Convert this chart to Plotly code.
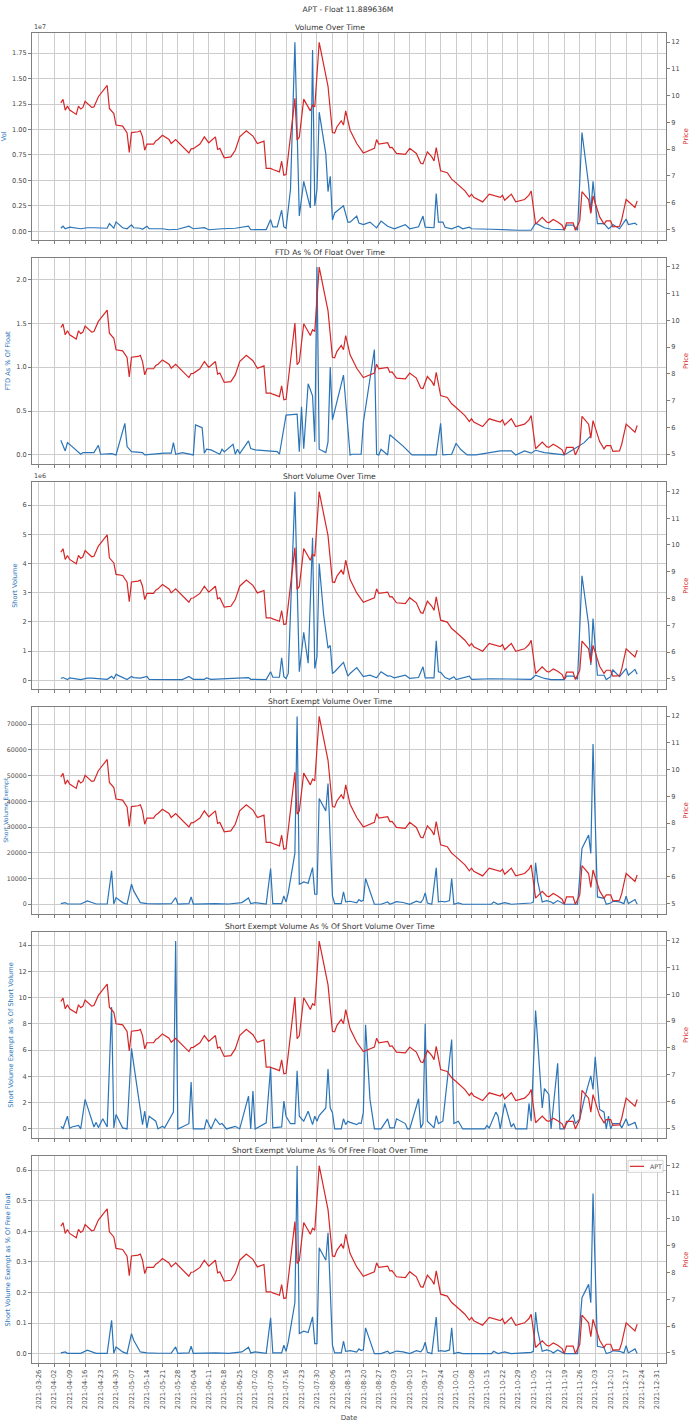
import pandas as pd
import plotly.graph_objects as go
from plotly.subplots import make_subplots

YEAR = "2021-"
TICKER = "APT"
FLOAT_SHARES = 11889636

# ---------------- price (right axis, every panel) ----------------
price_dates = [
    "04-05", "04-06", "04-07", "04-08", "04-09", "04-12", "04-13", "04-14", "04-15", "04-16",
    "04-19", "04-20", "04-22", "04-26", "04-27", "04-29", "04-30", "05-03", "05-05", "05-06",
    "05-07", "05-10", "05-11", "05-12", "05-13", "05-14", "05-17", "05-18", "05-19", "05-21",
    "05-24", "05-25", "05-27", "05-30", "06-02", "06-03", "06-04", "06-07", "06-09", "06-11",
    "06-14", "06-15", "06-16", "06-18", "06-21", "06-23", "06-25", "06-28", "07-01", "07-03",
    "07-06", "07-07", "07-09", "07-10", "07-13", "07-14", "07-15", "07-16", "07-20", "07-21",
    "07-22", "07-24", "07-27", "07-28", "07-29", "07-31", "08-02", "08-03", "08-04", "08-06",
    "08-07", "08-08", "08-10", "08-11", "08-12", "08-14", "08-15", "08-17", "08-20", "08-25",
    "08-26", "08-27", "08-31", "09-01", "09-02", "09-04", "09-08", "09-10", "09-13", "09-15",
    "09-16", "09-18", "09-20", "09-21", "09-22", "09-24", "09-27", "09-29", "10-01", "10-04",
    "10-05", "10-07", "10-08", "10-09", "10-11", "10-13", "10-16", "10-18", "10-21", "10-22",
    "10-23", "10-26", "10-28", "11-01", "11-03", "11-04", "11-06", "11-09", "11-11", "11-12",
    "11-14", "11-16", "11-18", "11-19", "11-20", "11-23", "11-24", "11-26", "11-27", "11-30",
    "12-01", "12-02", "12-05", "12-07", "12-08", "12-10", "12-11", "12-14", "12-15", "12-17",
    "12-21", "12-22",
]
price_values = [
    9.73, 9.86, 9.46, 9.61, 9.46, 9.30, 9.61, 9.50, 9.56, 9.79,
    9.56, 9.58, 9.96, 10.38, 9.52, 9.33, 8.90, 8.86, 8.61, 7.88,
    8.62, 8.65, 8.69, 8.46, 7.96, 8.19, 8.19, 8.31, 8.36, 8.52,
    8.36, 8.21, 8.36, 8.09, 7.86, 8.01, 8.02, 8.19, 8.46, 8.24,
    8.46, 7.99, 8.03, 7.68, 7.71, 7.96, 8.46, 8.69, 8.49, 8.21,
    8.30, 7.28, 7.28, 7.24, 7.15, 7.55, 7.03, 7.05, 9.90, 8.34,
    8.45, 9.87, 9.43, 9.65, 9.58, 11.99, 11.20, 10.83, 10.35, 8.62,
    8.60, 8.83, 9.06, 8.90, 9.43, 8.71, 8.55, 8.21, 7.86, 8.03,
    8.36, 8.19, 8.24, 8.06, 8.07, 7.84, 7.81, 8.03, 7.84, 7.47,
    7.45, 7.90, 7.71, 7.56, 8.06, 7.19, 7.12, 6.88, 6.74, 6.53,
    6.44, 6.22, 6.32, 6.20, 6.12, 6.03, 6.32, 6.28, 6.20, 6.28,
    6.09, 6.32, 6.03, 6.12, 6.28, 6.44, 5.20, 5.45, 5.28, 5.25,
    5.37, 5.28, 5.16, 4.97, 5.25, 5.25, 4.97, 5.32, 6.41, 6.12,
    5.60, 6.25, 5.47, 5.20, 5.32, 5.32, 5.10, 5.12, 5.37, 6.12,
    5.82, 6.07,
]

# ---------------- volume ----------------
vol_dates = [
    "04-05", "04-06", "04-07", "04-09", "04-14", "04-17", "04-20", "04-23", "04-24", "04-26",
    "04-27", "04-29", "04-30", "05-03", "05-05", "05-07", "05-08", "05-11", "05-12", "05-14",
    "05-15", "05-21", "05-24", "05-28", "06-02", "06-04", "06-09", "06-11", "06-17", "06-23",
    "06-29", "06-30", "07-07", "07-09", "07-10", "07-12", "07-14", "07-15", "07-16", "07-18",
    "07-20", "07-22", "07-24", "07-27", "07-28", "07-29", "07-30", "07-31", "08-03", "08-04",
    "08-05", "08-06", "08-07", "08-11", "08-13", "08-14", "08-17", "08-18", "08-20", "08-23",
    "08-26", "08-28", "08-31", "09-03", "09-08", "09-10", "09-14", "09-16", "09-17", "09-21",
    "09-22", "09-23", "09-25", "09-26", "09-29", "09-30", "10-02", "10-04", "10-07", "10-08",
    "10-11", "10-17", "10-29", "11-04", "11-06", "11-10", "11-13", "11-19", "11-20", "11-23",
    "11-25", "11-27", "11-30", "12-01", "12-02", "12-04", "12-07", "12-09", "12-10", "12-11",
    "12-14", "12-17", "12-18", "12-21", "12-22",
]
vol_values = [
    300000, 500000, 250000, 400000, 250000, 350000, 350000, 330000, 280000, 300000,
    760000, 300000, 920000, 350000, 250000, 630000, 350000, 300000, 200000, 500000,
    250000, 250000, 150000, 200000, 500000, 250000, 350000, 150000, 250000, 300000,
    500000, 150000, 170000, 1150000, 430000, 430000, 2070000, 430000, 300000, 4100000,
    18550000, 1500000, 4900000, 2300000, 17800000, 2500000, 4100000, 11700000, 7600000, 3900000,
    5400000, 1100000, 1800000, 2500000, 900000, 900000, 1500000, 800000, 660000, 900000,
    330000, 1000000, 500000, 250000, 660000, 250000, 450000, 1500000, 400000, 350000,
    3700000, 900000, 900000, 400000, 250000, 350000, 500000, 250000, 400000, 250000,
    250000, 200000, 100000, 100000, 800000, 350000, 200000, 150000, 600000, 600000,
    100000, 9700000, 4600000, 1900000, 4900000, 760000, 760000, 250000, 400000, 660000,
    250000, 1200000, 660000, 800000, 600000,
]

# ---------------- FTD as % of float ----------------
ftd_dates = [
    "04-05", "04-07", "04-08", "04-09", "04-14", "04-15", "04-20", "04-22", "04-23", "04-28",
    "04-30", "05-04", "05-05", "05-07", "05-12", "05-13", "05-22", "05-25", "05-26", "05-27",
    "05-30", "06-04", "06-05", "06-08", "06-09", "06-10", "06-12", "06-16", "06-17", "06-18",
    "06-22", "06-23", "06-24", "06-25", "06-29", "06-30", "07-02", "07-12", "07-13", "07-16",
    "07-21", "07-22", "07-23", "07-24", "07-26", "07-28", "07-29", "07-30", "07-31", "08-03",
    "08-04", "08-05", "08-06", "08-11", "08-14", "08-15", "08-19", "08-20", "08-25", "08-26",
    "08-27", "08-28", "08-31", "09-01", "09-07", "09-11", "09-22", "09-24", "09-25", "09-29",
    "10-01", "10-03", "10-06", "10-10", "10-21", "10-23", "10-26", "10-28", "11-01", "11-04",
    "11-06", "11-10", "11-19", "11-22", "11-28", "12-01",
]
ftd_values = [
    0.168, 0.046, 0.14, 0.12, 0.008, 0.027, 0.027, 0.11, 0.008, 0.015,
    0.0, 0.36, 0.095, 0.038, 0.027, 0.0, 0.02, 0.02, 0.14, 0.008,
    0.027, 0.0, 0.343, 0.31, 0.02, 0.065, 0.057, 0.008, 0.065, 0.034,
    0.12, 0.008, 0.065, 0.015, 0.16, 0.072, 0.057, 0.038, 0.008, 0.453,
    0.465, 0.038, 0.55, 0.072, 0.81, 0.674, 0.149, 2.14, 0.065, 0.027,
    0.149, 1.0, 0.4, 0.91, 0.0, 0.008, 0.008, 0.37, 1.2, 0.008,
    0.0, 0.065, 0.0, 0.23, 0.1, 0.0, 0.0, 0.36, 0.0, 0.008,
    0.133, 0.065, 0.0, 0.0, 0.046, 0.046, 0.046, 0.0, 0.046, 0.02,
    0.053, 0.027, 0.0, 0.046, 0.14, 0.217,
]

# ---------------- short volume ----------------
sv_dates = [
    "04-05", "04-06", "04-08", "04-09", "04-14", "04-17", "04-19", "04-24", "04-26", "04-28",
    "04-29", "04-30", "05-03", "05-05", "05-07", "05-08", "05-11", "05-14", "05-15", "05-21",
    "05-24", "05-30", "06-02", "06-04", "06-09", "06-10", "06-12", "06-20", "06-29", "06-30",
    "07-07", "07-09", "07-10", "07-13", "07-14", "07-15", "07-16", "07-17", "07-20", "07-22",
    "07-24", "07-26", "07-28", "07-29", "07-30", "07-31", "08-02", "08-04", "08-05", "08-06",
    "08-07", "08-11", "08-13", "08-14", "08-17", "08-20", "08-23", "08-26", "08-28", "08-31",
    "09-01", "09-03", "09-08", "09-10", "09-14", "09-16", "09-17", "09-21", "09-22", "09-23",
    "09-24", "09-26", "09-28", "09-30", "10-01", "10-07", "10-08", "10-17", "10-29", "11-04",
    "11-06", "11-10", "11-13", "11-19", "11-20", "11-23", "11-25", "11-27", "11-30", "12-01",
    "12-02", "12-04", "12-07", "12-08", "12-10", "12-11", "12-14", "12-17", "12-18", "12-21",
    "12-22",
]
sv_values = [
    60000, 90000, 20000, 80000, 20000, 70000, 70000, 30000, 30000, 130000,
    50000, 200000, 90000, 20000, 130000, 90000, 70000, 130000, 30000, 30000,
    20000, 20000, 130000, 30000, 30000, 80000, 30000, 60000, 90000, 30000,
    20000, 290000, 100000, 100000, 770000, 120000, 60000, 230000, 6460000, 290000,
    1640000, 580000, 4880000, 400000, 810000, 4000000, 2250000, 1100000, 1190000, 230000,
    290000, 610000, 140000, 230000, 430000, 120000, 170000, 80000, 290000, 140000,
    150000, 80000, 170000, 60000, 90000, 460000, 80000, 80000, 1350000, 290000,
    270000, 90000, 30000, 120000, 20000, 140000, 30000, 50000, 30000, 30000,
    170000, 60000, 20000, 20000, 140000, 140000, 30000, 3580000, 1900000, 520000,
    2110000, 170000, 170000, 20000, 120000, 350000, 120000, 400000, 170000, 370000,
    200000,
]

# ---------------- short exempt volume ----------------
se_dates = [
    "04-05", "04-07", "04-08", "04-14", "04-17", "04-19", "04-21", "04-26", "04-28", "04-29",
    "04-30", "05-03", "05-05", "05-07", "05-08", "05-11", "05-14", "05-19", "05-25", "05-27",
    "05-28", "06-02", "06-03", "06-04", "06-09", "06-14", "06-20", "06-26", "06-29", "06-30",
    "07-02", "07-07", "07-09", "07-10", "07-14", "07-15", "07-16", "07-17", "07-20", "07-21",
    "07-22", "07-24", "07-26", "07-28", "07-29", "07-30", "07-31", "08-03", "08-04", "08-06",
    "08-07", "08-10", "08-11", "08-12", "08-14", "08-17", "08-18", "08-19", "08-20", "08-21",
    "08-25", "08-28", "08-31", "09-01", "09-04", "09-07", "09-10", "09-13", "09-15", "09-16",
    "09-17", "09-18", "09-20", "09-22", "09-23", "09-24", "09-26", "09-28", "09-29", "09-30",
    "10-02", "10-04", "10-17", "10-18", "10-20", "10-23", "10-26", "11-04", "11-05", "11-06",
    "11-07", "11-09", "11-11", "11-13", "11-14", "11-16", "11-19", "11-25", "11-27", "11-30",
    "12-01", "12-02", "12-04", "12-07", "12-08", "12-10", "12-11", "12-14", "12-16", "12-17",
    "12-18", "12-21", "12-22",
]
se_values = [
    260, 650, 100, 100, 1300, 650, 100, 100, 12970, 100,
    2590, 650, 0, 7780, 5190, 650, 260, 130, 200, 2590,
    100, 260, 2850, 100, 260, 260, 100, 650, 2460, 260,
    650, 100, 13880, 260, 260, 3240, 910, 4540, 19840, 73000,
    7780, 8690, 8170, 14270, 3890, 3890, 41100, 36300, 46950, 3240,
    260, 260, 4800, 910, 1170, 600, 1820, 1170, 1500, 10000,
    0, 0, 900, 0, 1000, 700, 0, 1170, 700, 1820,
    4420, 500, 0, 14160, 900, 1170, 900, 1430, 10000, 0,
    500, 0, 0, 900, 0, 650, 0, 500, 900, 16100,
    8700, 900, 1430, 900, 260, 1430, 0, 0, 21700, 26900,
    19750, 62240, 2860, 2300, 0, 500, 1170, 900, 260, 3120,
    260, 1820, 0,
]

# ---------------- short exempt as % of short volume ----------------
sep_dates = [
    "04-05", "04-06", "04-08", "04-09", "04-10", "04-13", "04-14", "04-15", "04-16", "04-18",
    "04-20", "04-21", "04-22", "04-24", "04-25", "04-26", "04-28", "04-29", "04-30", "05-03",
    "05-05", "05-07", "05-08", "05-11", "05-12", "05-13", "05-14", "05-15", "05-18", "05-19",
    "05-21", "05-22", "05-26", "05-27", "05-28", "06-02", "06-03", "06-04", "06-09", "06-10",
    "06-12", "06-14", "06-16", "06-17", "06-19", "06-23", "06-25", "06-29", "06-30", "07-01",
    "07-02", "07-07", "07-09", "07-10", "07-14", "07-15", "07-16", "07-18", "07-20", "07-21",
    "07-22", "07-24", "07-26", "07-28", "07-29", "07-30", "07-31", "08-03", "08-04", "08-05",
    "08-06", "08-07", "08-10", "08-11", "08-12", "08-13", "08-14", "08-17", "08-18", "08-19",
    "08-20", "08-21", "08-23", "08-25", "08-28", "08-31", "09-01", "09-03", "09-04", "09-08",
    "09-09", "09-10", "09-14", "09-15", "09-16", "09-17", "09-18", "09-21", "09-22", "09-23",
    "09-25", "09-29", "09-30", "10-02", "10-04", "10-14", "10-15", "10-16", "10-19", "10-20",
    "10-21", "10-23", "10-26", "10-27", "10-28", "11-02", "11-03", "11-04", "11-06", "11-09",
    "11-10", "11-12", "11-13", "11-16", "11-17", "11-19", "11-20", "11-23", "11-24", "11-26",
    "11-28", "12-01", "12-02", "12-03", "12-05", "12-07", "12-08", "12-09", "12-10", "12-11",
    "12-14", "12-15", "12-17", "12-18", "12-21", "12-22",
]
sep_values = [
    0.2, 0.03, 0.97, 0.05, 0.15, 0.26, 0.0, 1.2, 2.25, 1.2,
    0.15, 0.5, 0.1, 0.77, 0.4, 0.15, 9.27, 0.08, 1.1, 0.08,
    0.0, 6.13, 4.93, 1.74, 0.33, 1.35, 0.08, 0.97, 0.59, 0.0,
    0.2, 0.08, 1.28, 14.3, 0.0, 0.4, 3.58, 0.0, 0.0, 0.72,
    0.0, 0.77, 0.33, 0.41, 0.0, 0.2, 0.0, 2.5, 0.0, 2.89,
    0.0, 0.46, 4.68, 0.08, 0.15, 2.12, 0.97, 0.4, 0.4, 4.42,
    0.97, 0.59, 1.35, 0.33, 0.97, 0.59, 1.02, 1.6, 4.55, 1.6,
    1.23, 0.0, 0.0, 0.77, 0.33, 0.59, 0.5, 0.33, 0.46, 0.41,
    1.28, 7.92, 2.25, 0.0, 0.0, 0.77, 0.08, 0.08, 0.77, 0.41,
    0.0, 0.0, 2.3, 0.08, 0.41, 8.0, 0.59, 0.08, 1.02, 0.41,
    0.59, 6.8, 0.41, 0.59, 0.0, 0.0, 0.26, 0.08, 1.28, 0.97,
    0.0, 1.94, 0.15, 0.41, 0.0, 0.0, 1.94, 0.59, 9.02, 1.6,
    3.07, 2.63, 0.0, 5.0, 0.0, 0.0, 0.41, 1.1, 0.41, 0.77,
    2.25, 4.04, 3.0, 5.5, 1.48, 1.28, 0.0, 0.97, 0.0, 0.41,
    0.41, 0.08, 0.77, 0.26, 0.5, 0.0,
]

titles = [
    "Volume Over Time",
    "FTD As % Of Float Over Time",
    "Short Volume Over Time",
    "Short Exempt Volume Over Time",
    "Short Exempt Volume As % Of Short Volume Over Time",
    "Short Exempt Volume As % Of Free Float Over Time",
]
left_labels = [
    "Vol",
    "FTD As % Of Float",
    "Short Volume",
    "Short Volume Exempt",
    "Short Volume Exempt as % Of Short Volume",
    "Short Volume Exempt as % Of Free Float",
]
left_tickvals = [
    [0, 2.5e6, 5e6, 7.5e6, 1e7, 1.25e7, 1.5e7, 1.75e7],
    [0, 0.5, 1.0, 1.5, 2.0],
    [0, 1e6, 2e6, 3e6, 4e6, 5e6, 6e6],
    [0, 10000, 20000, 30000, 40000, 50000, 60000, 70000],
    [0, 2, 4, 6, 8, 10, 12, 14],
    [0, 0.1, 0.2, 0.3, 0.4, 0.5, 0.6],
]
left_ticktext = [
    ["0.00", "0.25", "0.50", "0.75", "1.00", "1.25", "1.50", "1.75"],
    ["0.0", "0.5", "1.0", "1.5", "2.0"],
    ["0", "1", "2", "3", "4", "5", "6"],
    ["0", "10000", "20000", "30000", "40000", "50000", "60000", "70000"],
    ["0", "2", "4", "6", "8", "10", "12", "14"],
    ["0.0", "0.1", "0.2", "0.3", "0.4", "0.5", "0.6"],
]
offset_texts = ["1e7", "", "1e6", "", "", ""]
price_ticks = [5, 6, 7, 8, 9, 10, 11, 12]

# derived: short exempt volume as % of free float
sef_values = [v / FLOAT_SHARES * 100 for v in se_values]

series = [
    (vol_dates, vol_values),
    (ftd_dates, ftd_values),
    (sv_dates, sv_values),
    (se_dates, se_values),
    (sep_dates, sep_values),
    (se_dates, sef_values),
]


def full(dates):
    return [YEAR + d for d in dates]


def padded(vals, frac=0.05):
    lo, hi = min(vals), max(vals)
    p = (hi - lo) * frac
    return [lo - p, hi + p]


BLUE = "#2a74b8"
RED = "#d62728"
GRID = "#cccccc"
FRAME = "#7f7f7f"
TXT = "#4a4a4a"
FONT = "DejaVu Sans"

W, H = 696, 1428
ML, MR, MT, MB = 32, 30, 33, 65
PW, PH = W - ML - MR, H - MT - MB
gap_px = 18
vs = gap_px / PH

fig = make_subplots(
    rows=6, cols=1, shared_xaxes=True, vertical_spacing=vs,
    specs=[[{"secondary_y": True}] for _ in range(6)],
    subplot_titles=titles,
)

# the wide-tick panel (row 4) gets its label as a hand-placed annotation at the page edge
EDGE_LABEL_ROW = 4

pdates = full(price_dates)
for i, (d, v) in enumerate(series):
    r = i + 1
    fig.add_trace(go.Scatter(x=full(d), y=v, mode="lines",
                             line=dict(color=BLUE, width=1.2),
                             showlegend=False, name=left_labels[i]),
                  row=r, col=1, secondary_y=False)
    fig.add_trace(go.Scatter(x=pdates, y=price_values, mode="lines",
                             line=dict(color=RED, width=1.2),
                             showlegend=False, name=TICKER),
                  row=r, col=1, secondary_y=True)
    ytitle = None if r == EDGE_LABEL_ROW else dict(
        text=left_labels[i], font=dict(size=6.6, color=BLUE, family=FONT), standoff=4)
    fig.update_yaxes(row=r, col=1, secondary_y=False, automargin=False,
                     range=padded(v), tickvals=left_tickvals[i], ticktext=left_ticktext[i],
                     showgrid=True, gridcolor=GRID, gridwidth=0.8, zeroline=False,
                     ticks="outside", ticklen=3, tickcolor=FRAME,
                     tickfont=dict(size=6.6 if r != EDGE_LABEL_ROW else 6.3, color=TXT, family=FONT),
                     showline=True, linecolor=FRAME, linewidth=0.8, mirror=True,
                     title=ytitle)
    fig.update_yaxes(row=r, col=1, secondary_y=True, automargin=False,
                     range=padded(price_values), tickvals=price_ticks,
                     showgrid=False, zeroline=False,
                     ticks="outside", ticklen=3, tickcolor=FRAME,
                     tickfont=dict(size=6.6, color=TXT, family=FONT),
                     title=dict(text="Price", font=dict(size=6.6, color=RED, family=FONT),
                                standoff=4))

all_dates = pd.to_datetime(full(price_dates) + sum([full(d) for d, _ in series], []))
dmin, dmax = all_dates.min(), all_dates.max()
dpad = (dmax - dmin) * 0.05
xr = [dmin - dpad, dmax + dpad]

fig.update_xaxes(type="date", range=xr, domain=[0, 1], tick0="2021-03-26", dtick=7 * 86400000,
                 tickformat="%Y-%m-%d", showgrid=True, gridcolor=GRID, gridwidth=0.8,
                 ticks="outside", ticklen=3, tickcolor=FRAME, zeroline=False, automargin=False,
                 showline=True, linecolor=FRAME, linewidth=0.8, mirror=True,
                 tickfont=dict(size=6.8, color=TXT, family=FONT))
fig.update_xaxes(row=6, col=1, showticklabels=True, tickangle=-90,
                 title=dict(text="Date", font=dict(size=7, color=TXT, family=FONT), standoff=6))

for ann in fig.layout.annotations:
    ann.font = dict(size=7.6, color="#333333", family=FONT)
    ann.yshift = -1

domains = []
for i in range(6):
    ax = fig.layout["yaxis" if i == 0 else "yaxis%d" % (2 * i + 1)]
    domains.append(ax.domain)

# offset texts ("1e7", "1e6")
for i, t in enumerate(offset_texts):
    if t:
        fig.add_annotation(text=t, xref="paper", yref="paper", x=0, y=domains[i][1],
                           xanchor="left", yanchor="bottom", showarrow=False,
                           font=dict(size=6.4, color=TXT, family=FONT))

# row-4 y label, squeezed against the page edge
d4 = domains[EDGE_LABEL_ROW - 1]
fig.add_annotation(text=left_labels[EDGE_LABEL_ROW - 1], textangle=-90,
                   xref="paper", yref="paper", x=(0.5 - ML) / PW, y=(d4[0] + d4[1]) / 2,
                   xanchor="left", yanchor="middle", showarrow=False,
                   font=dict(size=6.0, color=BLUE, family=FONT))

# compact legend box in the last panel (top-right corner)
top6 = domains[5][1]
bx0, bx1 = 1 - 38 / PW, 1 - 3 / PW
by1 = top6 - 4 / PH
by0 = by1 - 12 / PH
ymid = (by0 + by1) / 2
fig.add_shape(type="rect", xref="paper", yref="paper", x0=bx0, x1=bx1, y0=by0, y1=by1,
              line=dict(color="#cccccc", width=0.8), fillcolor="rgba(255,255,255,0.85)")
fig.add_shape(type="line", xref="paper", yref="paper", x0=bx0 + 2 / PW, x1=bx0 + 16 / PW,
              y0=ymid, y1=ymid, line=dict(color=RED, width=1.2))
fig.add_annotation(text=TICKER, xref="paper", yref="paper", x=bx0 + 20 / PW, y=ymid,
                   xanchor="left", yanchor="middle", showarrow=False,
                   font=dict(size=6.2, color=TXT, family=FONT))

fig.update_layout(
    width=W, height=H,
    margin=dict(l=ML, r=MR, t=MT, b=MB, autoexpand=False),
    paper_bgcolor="white", plot_bgcolor="white",
    font=dict(family=FONT, color=TXT),
    showlegend=False,
    title=dict(text="%s - Float %.6fM" % (TICKER, FLOAT_SHARES / 1e6),
               x=0.5, xanchor="center", y=1 - 9 / H, yanchor="middle",
               font=dict(size=7.6, color="#333333", family=FONT)),
)

fig.write_html("out.html")
